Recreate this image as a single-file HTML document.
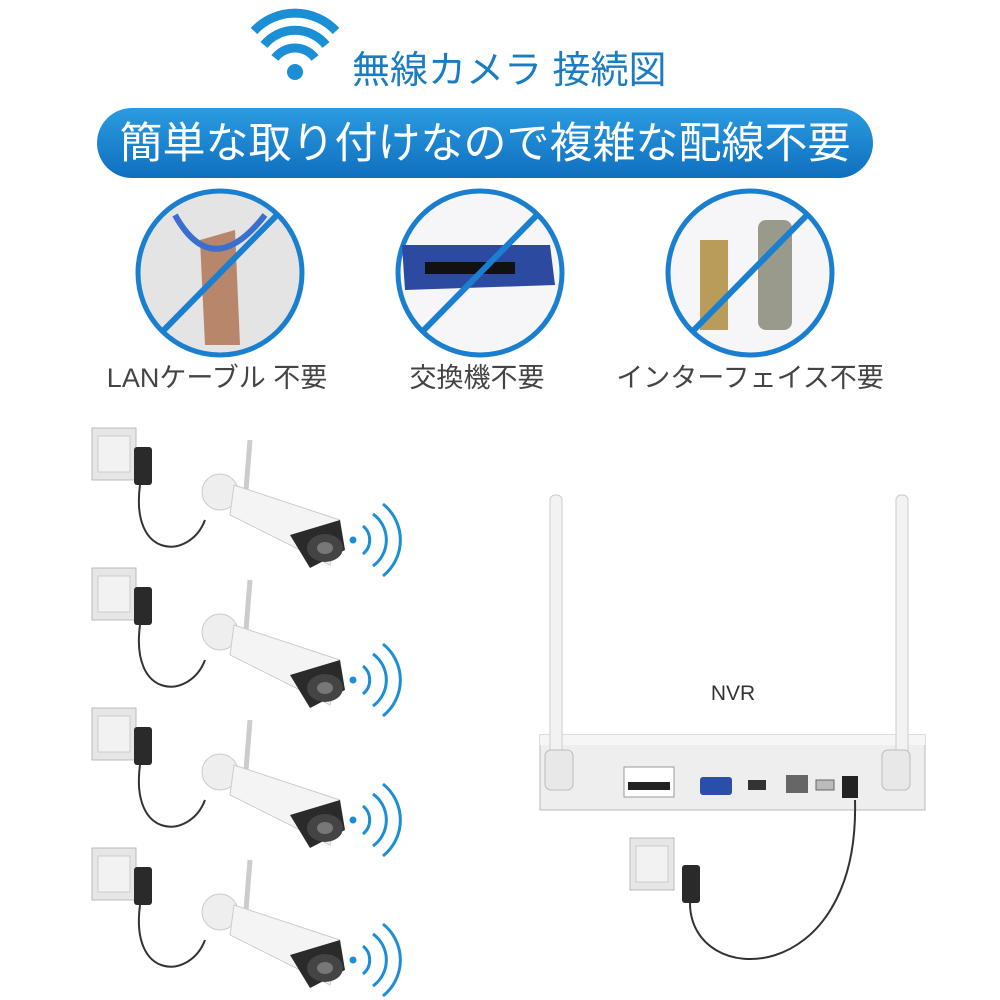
<!DOCTYPE html>
<html><head><meta charset="utf-8"><style>
html,body{margin:0;padding:0;background:#fff;width:1000px;height:1000px;overflow:hidden}
svg{display:block}
text{font-family:"Liberation Sans","Noto Sans CJK JP",sans-serif}
</style></head><body>
<svg width="1000" height="1000" viewBox="0 0 1000 1000" xmlns="http://www.w3.org/2000/svg">
<defs>
<linearGradient id="ban" x1="0" y1="0" x2="0" y2="1"><stop offset="0" stop-color="#2b9be0"/><stop offset="1" stop-color="#0f6fbf"/></linearGradient>
<g id="wifiR"><path d="M0,-14 A18,18 0 0 1 0,14" fill="none" stroke="#1b8fd6" stroke-width="3"/><path d="M10,-26 A32,32 0 0 1 10,26" fill="none" stroke="#1b8fd6" stroke-width="3"/><path d="M20,-36 A46,46 0 0 1 20,36" fill="none" stroke="#1b8fd6" stroke-width="3"/><circle cx="-10" cy="0" r="3.5" fill="#1b8fd6"/></g>
<g id="plate"><rect x="0" y="0" width="44" height="52" fill="#e6e6e6" stroke="#bbb"/><rect x="6" y="8" width="32" height="36" fill="#f2f2f2" stroke="#ccc"/></g>
<g id="cam">
<path d="M0,0 L-4,50" stroke="#ccc" stroke-width="5"/>
<circle cx="-30" cy="52" r="18" fill="#eee" stroke="#ccc"/>
<path d="M-16,45 L90,80 L80,125 L-20,75 Z" fill="#f4f4f4" stroke="#ccc"/>
<path d="M40,95 L90,80 L95,110 L60,128 Z" fill="#2a2a2a"/>
<ellipse cx="75" cy="108" rx="18" ry="14" fill="#444"/>
<ellipse cx="75" cy="108" rx="8" ry="6" fill="#777"/>
</g>
<g id="adapter"><rect x="0" y="0" width="18" height="38" rx="3" fill="#2a2a2a"/></g>
</defs>
<g transform="translate(295,72)">
<circle cx="0" cy="0" r="8" fill="#1b8fd6"/>
<path d="M-20,-14 A25,25 0 0 1 20,-14" fill="none" stroke="#1b8fd6" stroke-width="9"/>
<path d="M-31,-27 A40,40 0 0 1 31,-27" fill="none" stroke="#1b8fd6" stroke-width="9"/>
<path d="M-41,-41 A56,56 0 0 1 41,-41" fill="none" stroke="#1b8fd6" stroke-width="9"/>
</g>
<text x="352" y="83" font-size="38" fill="#1b7cc2">無線カメラ 接続図</text>
<rect x="97" y="108" width="776" height="70" rx="35" fill="url(#ban)"/>
<text x="485" y="158" font-size="43" fill="#fff" text-anchor="middle">簡単な取り付けなので複雑な配線不要</text>
<g>
<circle cx="220" cy="273" r="82" fill="#e4e4e4" stroke="#1b7fd0" stroke-width="5"/>
<path d="M200,240 L235,230 L240,345 L205,345 Z" fill="#b8866a"/>
<path d="M175,215 C200,260 230,260 265,215" stroke="#3a6fd0" stroke-width="6" fill="none"/>
<line x1="277" y1="215" x2="163" y2="331" stroke="#1b7fd0" stroke-width="6"/>
<circle cx="480" cy="273" r="82" fill="#f6f6f8" stroke="#1b7fd0" stroke-width="5"/>
<path d="M402,245 L550,245 L555,285 L405,290 Z" fill="#2c4aa0"/>
<rect x="425" y="262" width="90" height="12" fill="#111"/>
<line x1="537" y1="215" x2="423" y2="331" stroke="#1b7fd0" stroke-width="6"/>
<circle cx="750" cy="273" r="82" fill="#f6f6f8" stroke="#1b7fd0" stroke-width="5"/>
<rect x="700" y="240" width="28" height="90" fill="#b99c5a"/>
<rect x="758" y="220" width="34" height="110" rx="8" fill="#9a9a8c"/>
<line x1="807" y1="215" x2="693" y2="331" stroke="#1b7fd0" stroke-width="6"/>
</g>
<text x="217" y="387" font-size="27" fill="#444" text-anchor="middle">LANケーブル 不要</text>
<text x="477" y="387" font-size="27" fill="#444" text-anchor="middle">交換機不要</text>
<text x="750" y="387" font-size="27" fill="#444" text-anchor="middle">インターフェイス不要</text>
<g>
<use href="#plate" x="92" y="428"/><use href="#adapter" x="134" y="447"/><path d="M140,485 C130,560 190,560 205,520" fill="none" stroke="#333" stroke-width="2"/>
<use href="#cam" x="250" y="440"/><use href="#wifiR" x="363" y="540"/>
</g>
<g transform="translate(0,140)">
<use href="#plate" x="92" y="428"/><use href="#adapter" x="134" y="447"/><path d="M140,485 C130,560 190,560 205,520" fill="none" stroke="#333" stroke-width="2"/>
<use href="#cam" x="250" y="440"/><use href="#wifiR" x="363" y="540"/>
</g>
<g transform="translate(0,280)">
<use href="#plate" x="92" y="428"/><use href="#adapter" x="134" y="447"/><path d="M140,485 C130,560 190,560 205,520" fill="none" stroke="#333" stroke-width="2"/>
<use href="#cam" x="250" y="440"/><use href="#wifiR" x="363" y="540"/>
</g>
<g transform="translate(0,420)">
<use href="#plate" x="92" y="428"/><use href="#adapter" x="134" y="447"/><path d="M140,485 C130,560 190,560 205,520" fill="none" stroke="#333" stroke-width="2"/>
<use href="#cam" x="250" y="440"/><use href="#wifiR" x="363" y="540"/>
</g>
<rect x="540" y="735" width="385" height="75" fill="#eeeeee" stroke="#bbb"/>
<rect x="540" y="735" width="385" height="10" fill="#f6f6f6"/>
<rect x="550" y="495" width="12" height="260" rx="5" fill="#f2f2f2" stroke="#ccc"/>
<rect x="896" y="495" width="12" height="260" rx="5" fill="#f2f2f2" stroke="#ccc"/>
<rect x="545" y="750" width="28" height="40" rx="6" fill="#e8e8e8" stroke="#bbb"/>
<rect x="882" y="750" width="28" height="40" rx="6" fill="#e8e8e8" stroke="#bbb"/>
<rect x="624" y="767" width="50" height="30" fill="#fff" stroke="#999"/>
<rect x="628" y="782" width="42" height="8" fill="#222"/>
<rect x="700" y="777" width="32" height="18" rx="3" fill="#2b4fa8"/>
<rect x="748" y="780" width="18" height="10" fill="#333"/>
<rect x="786" y="775" width="22" height="18" fill="#666"/>
<rect x="816" y="780" width="18" height="10" fill="#bbb" stroke="#666"/>
<rect x="842" y="776" width="16" height="22" fill="#222"/>
<text x="733" y="700" font-size="21" fill="#333" text-anchor="middle">NVR</text>
<use href="#plate" x="630" y="838"/>
<use href="#adapter" x="682" y="865"/>
<path d="M690,903 C690,990 860,990 855,800" fill="none" stroke="#333" stroke-width="2"/>
</svg>
</body></html>
